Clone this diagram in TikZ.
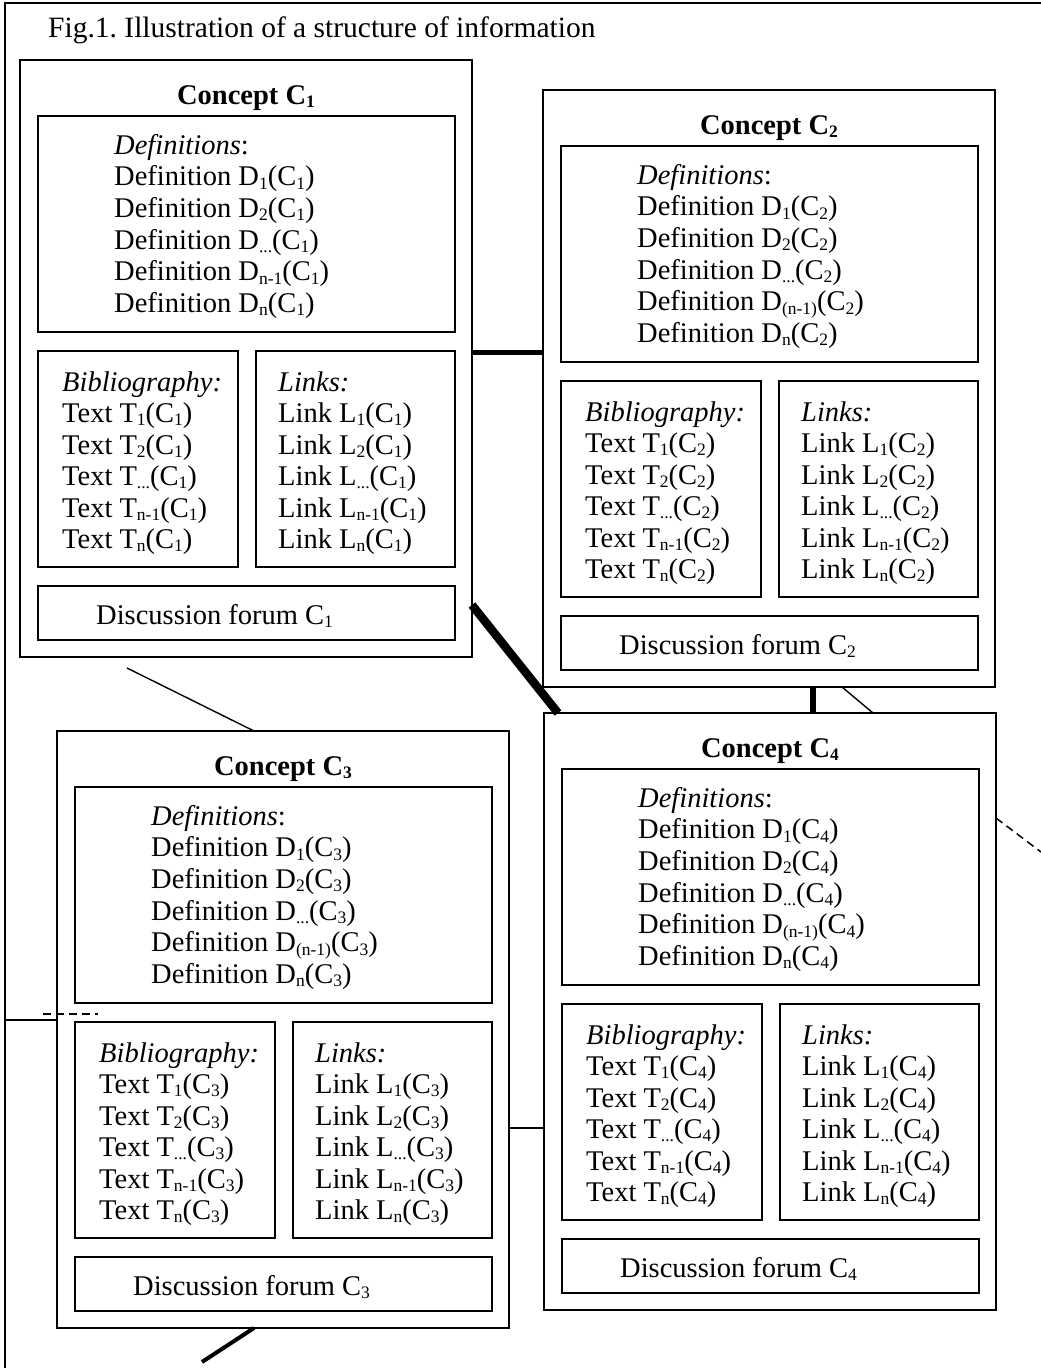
\documentclass[tikz,border=0pt]{standalone}
\usepackage{fontspec}
\setmainfont{Liberation Serif}
\frenchspacing
\newcommand\fs{\fontsize{28.5}{31.5}\selectfont}
\newcommand\sbs[1]{\raisebox{-0.12em}{\fontsize{17.5}{17.5}\selectfont #1}}
\newcommand\dd{...}
\tikzset{
  box/.style={draw, line width=1.6pt, inner sep=0, outer sep=0, anchor=north west},
  txt/.style={anchor=base west, inner sep=0, font=\fs},
  ttl/.style={anchor=base, inner sep=0, font=\fs\bfseries},
  thinline/.style={line width=1.4pt},
  dashline/.style={line width=1.5pt, dash pattern=on 8pt off 5pt},
}
% #1 name, #2 x, #3 y, #4 number, #5 n-1 subscript form
\newcommand\conceptbox[5]{%
  \begin{scope}[shift={(#2,#3)}]
    \node[box, minimum width=452, minimum height=597] (#1) at (0,0) {};
    \node[ttl] (#1t) at (226,44) {Concept C\sbs{#4}};
    \node[box, minimum width=417, minimum height=216] (#1def) at (18,56) {};
    \node[box, minimum width=200, minimum height=216] (#1bib) at (18,291) {};
    \node[box, minimum width=199, minimum height=216] (#1lnk) at (236,291) {};
    \node[box, minimum width=417, minimum height=54] (#1dis) at (18,526) {};
    \node[txt] (#1d0) at (94,94) {\textit{Definitions}:};
    \node[txt] (#1d1) at (94,125.7) {Definition D\sbs{1}(C\sbs{#4})};
    \node[txt] (#1d2) at (94,157.4) {Definition D\sbs{2}(C\sbs{#4})};
    \node[txt] (#1d3) at (94,189.1) {Definition D\sbs{\dd}(C\sbs{#4})};
    \node[txt] (#1d4) at (94,220.8) {Definition D\sbs{#5}(C\sbs{#4})};
    \node[txt] (#1d5) at (94,252.5) {Definition D\sbs{n}(C\sbs{#4})};
    \node[txt] (#1b0) at (42,331) {\textit{Bibliography:}};
    \node[txt] (#1b1) at (42,362.5) {Text T\sbs{1}(C\sbs{#4})};
    \node[txt] (#1b2) at (42,394) {Text T\sbs{2}(C\sbs{#4})};
    \node[txt] (#1b3) at (42,425.5) {Text T\sbs{\dd}(C\sbs{#4})};
    \node[txt] (#1b4) at (42,457) {Text T\sbs{n-1}(C\sbs{#4})};
    \node[txt] (#1b5) at (42,488.5) {Text T\sbs{n}(C\sbs{#4})};
    \node[txt] (#1l0) at (258,331) {\textit{Links:}};
    \node[txt] (#1l1) at (258,362.5) {Link L\sbs{1}(C\sbs{#4})};
    \node[txt] (#1l2) at (258,394) {Link L\sbs{2}(C\sbs{#4})};
    \node[txt] (#1l3) at (258,425.5) {Link L\sbs{\dd}(C\sbs{#4})};
    \node[txt] (#1l4) at (258,457) {Link L\sbs{n-1}(C\sbs{#4})};
    \node[txt] (#1l5) at (258,488.5) {Link L\sbs{n}(C\sbs{#4})};
    \node[txt] (#1f) at (76,564) {Discussion forum C\sbs{#4}};
  \end{scope}}
\begin{document}
\begin{tikzpicture}[x=1pt, y=-1pt]
  \useasboundingbox (0,0) rectangle (1041,1368);
  % frame
  \coordinate (fa) at (1041,3);
  \coordinate (fb) at (5,3);
  \coordinate (fc) at (5,1368);
  \draw[line width=2pt] (fa) -- (fb) -- (fc);
  \node[anchor=base west, inner sep=0, font=\fontsize{29.5}{31.5}\selectfont] (title) at (48,37) {Fig.1. Illustration of a structure of information};
  % concepts
  \conceptbox{c1}{20}{60}{1}{n-1}
  \conceptbox{c2}{543}{90}{2}{(n-1)}
  \conceptbox{c3}{57}{731}{3}{(n-1)}
  \conceptbox{c4}{544}{713}{4}{(n-1)}
  % connectors
  \draw[line width=5pt] ([yshift=-292pt]c1.north east) -- ([yshift=-262pt]c2.north west);
  \draw[line width=8.5pt] ([yshift=-545pt]c1.north east) -- ([xshift=14pt]c4.north west);
  \coordinate (p3) at (127,668);
  \draw[thinline] (p3) -- ([xshift=197pt]c3.north west);
  \draw[line width=5.5pt] ([xshift=270pt]c2.south west) -- ([xshift=269pt]c4.north west);
  \draw[thinline] ([xshift=299pt]c2.south west) -- ([xshift=329pt]c4.north west);
  \coordinate (p6) at (1041,852);
  \draw[dashline] ([yshift=-105pt]c4.north east) -- (p6);
  \coordinate (p7a) at (43,1014);
  \coordinate (p7b) at (98,1014);
  \draw[dashline] (p7a) -- (p7b);
  \coordinate (p8) at (5,1020);
  \draw[thinline] (p8) -- ([yshift=-289pt]c3.north west);
  \draw[thinline] ([yshift=-397pt]c3.north east) -- ([yshift=-415pt]c4.north west);
  \coordinate (p10) at (202,1362);
  \draw[line width=4pt] ([xshift=197pt]c3.south west) -- (p10);
\end{tikzpicture}
\end{document}
